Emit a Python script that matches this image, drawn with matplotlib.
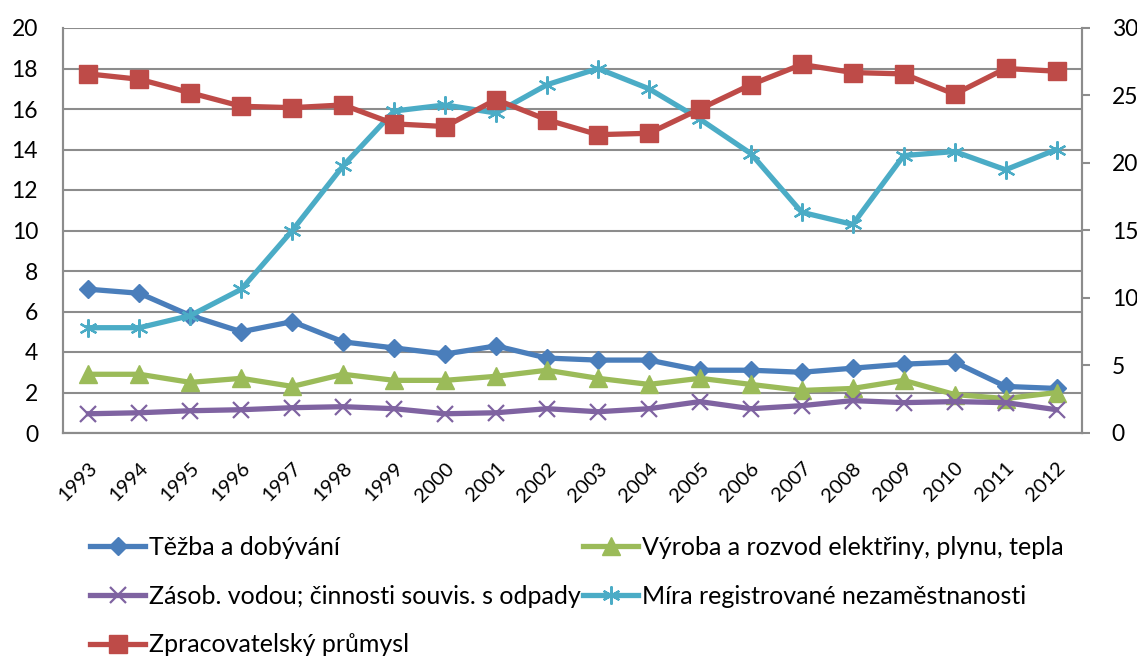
import matplotlib
matplotlib.use('Agg')
import matplotlib.pyplot as plt
import matplotlib.transforms as mtransforms

plt.rcParams['font.family'] = ['Lato', 'DejaVu Sans']

years = [str(y) for y in range(1993, 2013)]

# left axis series
tezba = [7.1, 6.9, 5.8, 5.0, 5.5, 4.5, 4.2, 3.9, 4.3, 3.7, 3.6, 3.6, 3.1, 3.1, 3.0, 3.2, 3.4, 3.5, 2.3, 2.2]
vyroba = [2.9, 2.9, 2.5, 2.7, 2.3, 2.9, 2.6, 2.6, 2.8, 3.1, 2.7, 2.4, 2.7, 2.4, 2.1, 2.2, 2.6, 1.9, 1.7, 2.0]
zasob = [0.95, 1.0, 1.1, 1.15, 1.25, 1.3, 1.2, 0.95, 1.0, 1.2, 1.05, 1.2, 1.55, 1.2, 1.35, 1.6, 1.5, 1.55, 1.5, 1.15]
mira = [5.2, 5.2, 5.8, 7.1, 10.0, 13.2, 15.9, 16.2, 15.8, 17.2, 18.0, 17.0, 15.5, 13.8, 10.9, 10.3, 13.7, 13.9, 13.0, 14.0]
# right axis series
zprac = [26.6, 26.2, 25.2, 24.2, 24.1, 24.3, 22.9, 22.7, 24.7, 23.2, 22.1, 22.2, 24.0, 25.8, 27.3, 26.7, 26.6, 25.1, 27.0, 26.8]

left_ticks = list(range(0, 21, 2))
right_ticks = list(range(0, 31, 5))

GRID = '#8c8c8c'

fig = plt.figure(figsize=(11.37, 6.56), dpi=100)
ax = fig.add_axes([63 / 1137, 1 - 433 / 656, 1019 / 1137, 405 / 656])
ax2 = ax.twinx()

x = list(range(len(years)))
lw = 3.8

l1, = ax.plot(x, tezba, color='#4a7ebb', lw=lw, marker='D', ms=9, label='Těžba a dobývání')
l2, = ax.plot(x, vyroba, color='#9bbb59', lw=lw, marker='^', ms=13, label='Výroba a rozvod elektřiny, plynu, tepla')
l3, = ax.plot(x, zasob, color='#7f63a1', lw=lw, marker='x', ms=11, mew=1.6,
              label='Zásob. vodou; činnosti souvis. s odpady')
l4, = ax.plot(x, mira, color='#4bacc6', lw=lw, marker=(6, 2, 0), ms=13, mew=1.6,
              label='Míra registrované nezaměstnanosti')
l5, = ax2.plot(x, zprac, color='#be4b48', lw=lw, marker='s', ms=13, label='Zpracovatelský průmysl')

ax.set_xlim(-0.5, len(years) - 0.5)
ax.set_ylim(0, 20)
ax2.set_ylim(0, 30)
ax.set_yticks(left_ticks)
ax2.set_yticks(right_ticks)
ax.set_xticks(x)
ax.set_xticklabels(years, rotation=45, ha='right', va='top', rotation_mode='anchor')
# nudge year labels a bit right, like the original
shift = mtransforms.ScaledTranslation(5 / 100, 0, fig.dpi_scale_trans)
for lab in ax.get_xticklabels():
    lab.set_transform(lab.get_transform() + shift)

ax.grid(axis='y', color=GRID, lw=1.5)
ax.set_axisbelow(True)
for a in (ax, ax2):
    a.spines['top'].set_visible(False)
    for side in ('left', 'right', 'bottom'):
        a.spines[side].set_color(GRID)
        a.spines[side].set_linewidth(1.5)

ax.tick_params(axis='y', length=0, pad=18, labelsize=16.5)
ax.tick_params(axis='x', length=0, pad=19, labelsize=14.5)
ax2.tick_params(axis='y', length=5.5, width=1.5, color=GRID, pad=16, labelsize=16.5)

handles = [l1, l3, l5, l2, l4]
fig.legend(handles=handles, labels=[h.get_label() for h in handles], ncol=2,
           loc='upper left', bbox_to_anchor=(90 / 1137, 1 - 536 / 656), frameon=False,
           fontsize=18, handlelength=2.2, handletextpad=0.15, columnspacing=0.1,
           labelspacing=1.03, borderpad=0, borderaxespad=0)

fig.savefig('out.png', dpi=100)
